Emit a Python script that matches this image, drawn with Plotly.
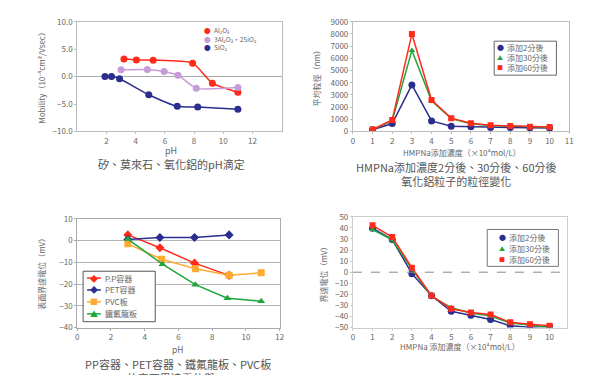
import plotly.graph_objects as go

W, H = 589, 375
FONT = "Noto Sans CJK TC, Noto Sans, sans-serif"
TXT = "#666666"

RED = "#ff2a1a"
NAVY = "#2b2d8f"
VIOLET = "#c79ad9"
ORANGE = "#ffaa33"
GREEN = "#1ea53c"

# ---------- Chart 1: mobility vs pH ----------
al2o3_ph = [3.2, 4.05, 5.2, 7.9, 9.25, 11.0]
al2o3_mob = [3.2, 3.05, 3.0, 2.45, -1.2, -2.85]
mul_ph = [3.0, 4.8, 5.95, 6.9, 8.15, 11.0]
mul_mob = [1.25, 1.3, 0.95, 0.25, -2.1, -2.0]
sio2_ph = [1.9, 2.35, 2.9, 4.9, 6.85, 8.25, 11.0]
sio2_mob = [0.0, 0.0, -0.4, -3.3, -5.4, -5.55, -5.95]
c1_names = ["Al₂O₃", "3Al₂O₃・2SiO₂", "SiO₂"]

# ---------- Chart 2: particle size vs HMPNa ----------
conc = [1, 2, 3, 4, 5, 6, 7, 8, 9, 10]
size_2 = [140, 650, 3820, 860, 430, 380, 330, 320, 310, 290]
size_30 = [150, 880, 6650, 2520, 1050, 640, 480, 430, 370, 340]
size_60 = [160, 950, 8000, 2580, 1090, 680, 500, 450, 380, 370]
c2_names = ["添加2分後", "添加30分後", "添加60分後"]

# ---------- Chart 3: zeta potential of containers ----------
pp_ph = [3.0, 4.9, 6.95, 9.0]
pp_mv = [2.6, -3.3, -10.4, -16.0]
pet_ph = [3.0, 4.9, 6.95, 9.0]
pet_mv = [0.5, 1.4, 1.4, 2.6]
pvc_ph = [3.0, 5.0, 7.0, 9.0, 10.9]
pvc_mv = [-1.5, -8.6, -13.0, -16.0, -14.8]
ptfe_ph = [3.0, 5.05, 7.0, 8.9, 10.9]
ptfe_mv = [0.7, -10.9, -20.3, -26.5, -27.9]
c3_names = ["P.P容器", "PET容器", "PVC板", "鐵氟龍板"]

# ---------- Chart 4: zeta potential vs HMPNa ----------
zeta_2 = [39.7, 29.5, -1.3, -21.3, -35.3, -38.9, -42.7, -48.5, -49.7, -49.0]
zeta_30 = [38.6, 29.2, 2.8, -21.9, -32.1, -36.8, -39.7, -45.9, -47.7, -50.0]
zeta_60 = [42.4, 31.8, 4.0, -21.3, -33.0, -36.5, -38.3, -45.3, -47.0, -48.5]
c4_names = ["添加2分後", "添加30分後", "添加60分後"]
ticks4 = [0, 1, 2, 3, 4, 5, 6, 7, 8, 9, 10]


def px(x):
    return x / W


def py(y):
    return 1 - y / H


fig = go.Figure()

# chart 1
for xs, ys, col in [(al2o3_ph, al2o3_mob, RED), (mul_ph, mul_mob, VIOLET), (sio2_ph, sio2_mob, NAVY)]:
    fig.add_trace(go.Scatter(x=xs, y=ys, mode="lines+markers", line=dict(color=col, width=1.5, shape="spline", smoothing=0.6),
                             marker=dict(color=col, size=7), xaxis="x", yaxis="y", showlegend=False))
# chart 2
for ys, col, sym, sz in [(size_2, NAVY, "circle", 7), (size_30, GREEN, "triangle-up", 6), (size_60, RED, "square", 6)]:
    fig.add_trace(go.Scatter(x=conc, y=ys, mode="lines+markers", line=dict(color=col, width=1.5),
                             marker=dict(color=col, size=sz, symbol=sym), xaxis="x2", yaxis="y2", showlegend=False))
# chart 3
for xs, ys, col, sym in [(pp_ph, pp_mv, RED, "diamond"), (pet_ph, pet_mv, NAVY, "diamond"),
                          (pvc_ph, pvc_mv, ORANGE, "square"), (ptfe_ph, ptfe_mv, GREEN, "triangle-up")]:
    fig.add_trace(go.Scatter(x=xs, y=ys, mode="lines+markers", line=dict(color=col, width=1.5),
                             marker=dict(color=col, size=7, symbol=sym), xaxis="x3", yaxis="y3", showlegend=False))
# chart 4
for ys, col, sym, sz in [(zeta_2, NAVY, "circle", 7), (zeta_30, GREEN, "triangle-up", 6), (zeta_60, RED, "square", 6)]:
    fig.add_trace(go.Scatter(x=conc, y=ys, mode="lines+markers", line=dict(color=col, width=1.5),
                             marker=dict(color=col, size=sz, symbol=sym), xaxis="x4", yaxis="y4", showlegend=False))

tickfont = dict(family=FONT, size=8, color=TXT)
ax_common = dict(showline=True, mirror=True, linewidth=1, ticks="outside", ticklen=2,
                 tickfont=tickfont, showgrid=False, zeroline=False, fixedrange=True)

fig.update_layout(
    width=W, height=H, margin=dict(l=0, r=0, t=0, b=0),
    paper_bgcolor="white", plot_bgcolor="white",
    font=dict(family=FONT, color=TXT),
    xaxis=dict(domain=[px(68), px(275)], range=[0, 14], tickvals=[2, 4, 6, 8, 10, 12],
               linecolor="#bbbbbb", tickcolor="#bbbbbb", anchor="y", **ax_common),
    yaxis=dict(domain=[py(121), py(8)], range=[-10, 10], dtick=5, tickformat=".1f",
               linecolor="#bbbbbb", tickcolor="#bbbbbb", anchor="x", **ax_common),
    xaxis2=dict(domain=[px(347), px(566)], range=[0, 11], dtick=1,
                linecolor="#bbbbbb", tickcolor="#bbbbbb", anchor="y2", **ax_common),
    yaxis2=dict(domain=[py(121), py(8)], range=[0, 9000], dtick=1000,
                linecolor="#bbbbbb", tickcolor="#bbbbbb", anchor="x2", **ax_common),
    xaxis3=dict(domain=[px(68), px(273)], range=[0, 12], dtick=2,
                linecolor="#aaaaaa", tickcolor="#aaaaaa", anchor="y3", **ax_common),
    yaxis3=dict(domain=[py(323), py(211)], range=[-40, 10], dtick=10,
                linecolor="#aaaaaa", tickcolor="#aaaaaa", anchor="x3", **ax_common),
    xaxis4=dict(domain=[px(347), px(564)], range=[0, 10.9], tickvals=ticks4,
                linecolor="#cccccc", tickcolor="#cccccc", anchor="y4", **ax_common),
    yaxis4=dict(domain=[py(323), py(209)], range=[-50, 50], dtick=10,
                linecolor="#cccccc", tickcolor="#cccccc", anchor="x4", **ax_common),
)
fig.update_yaxes(selector=dict(anchor="x"), zeroline=True, zerolinecolor="#aaaaaa", zerolinewidth=1)
fig.update_yaxes(selector=dict(anchor="x3"), showgrid=True, gridcolor="#b5b5b5", gridwidth=1)

shapes = []
# dashed zero line in chart 4
shapes.append(dict(type="line", xref="x4 domain", yref="y4", x0=0, x1=1, y0=0, y1=0,
                   line=dict(color="#888888", width=1, dash="dash")))

annos = []


def text(x, y, s, size=8, color=TXT, xanchor="center", angle=0, align="center"):
    annos.append(dict(x=px(x), y=py(y), xref="paper", yref="paper", text=s, showarrow=False,
                      font=dict(family=FONT, size=size, color=color), xanchor=xanchor, yanchor="middle",
                      textangle=angle, borderpad=0, align=align))


# axis titles
text(32, 64, "Mobility（10⁻⁴cm²/Vsec）", size=8, angle=-90)
text(163, 141, "pH", size=9)
text(310, 64, "平均粒徑（nm）", size=8, angle=-90)
text(457, 143, "HMPNa添加濃度（×10⁴mol/L）", size=8)
text(32, 266, "表面界達電位（mV）", size=8, angle=-90)
text(170, 345, "pH", size=8.5)
text(317, 266, "界達電位（mV）", size=8, angle=-90)
text(455, 343, "HMPNa 添加濃度（×10⁴mol/L）", size=8)

# captions
text(163, 155, "矽、莫來石、氧化鋁的pH滴定", size=11, color="#555555")
text(452, 165, "HMPNa添加濃度2分後、30分後、60分後<br>氧化鋁粒子的粒徑變化", size=11, color="#555555")
text(170, 368, "PP容器、PET容器、鐵氟龍板、PVC板<br>的表面界達電位與pH", size=11, color="#555555")

# legend chart 1 (markers only, no box) -- one block so the lines stack tightly
c1_cols = [RED, VIOLET, NAVY]
sym_block = "<br>".join(f"<span style='color:{c}'>●</span>" for c in c1_cols)
name_block = "<br>".join(c1_names)
text(200, 25.7, sym_block, size=6.6, xanchor="center")
text(205.5, 25.7, name_block, size=6.6, xanchor="left", align="left")

# legend chart 2
shapes.append(dict(type="rect", xref="paper", yref="paper", x0=px(490), x1=px(553), y0=py(63), y1=py(28),
                   line=dict(color="#666666", width=1), fillcolor="white"))
for i, (nm, col, sym) in enumerate(zip(c2_names, [NAVY, GREEN, RED], ["●", "▲", "■"])):
    yy = 34.5 + i * 10.5
    text(496, yy, sym, size=6 if sym != "●" else 7, color=col)
    text(502, yy, nm, size=8, xanchor="left")

# legend chart 3
shapes.append(dict(type="rect", xref="paper", yref="paper", x0=px(74), x1=px(147), y0=py(317), y1=py(265),
                   line=dict(color="#555555", width=1), fillcolor="white"))
for i, (nm, col, sym) in enumerate(zip(c3_names, [RED, NAVY, ORANGE, GREEN], ["◆", "◆", "■", "▲"])):
    yy = 272 + i * 12.3
    shapes.append(dict(type="line", xref="paper", yref="paper", x0=px(78), x1=px(92), y0=py(yy), y1=py(yy),
                       line=dict(color=col, width=1.5)))
    text(85, yy, sym, size=8, color=col)
    text(95, yy, nm, size=8, xanchor="left")

# legend chart 4
shapes.append(dict(type="rect", xref="paper", yref="paper", x0=px(483), x1=px(555), y0=py(260), y1=py(222),
                   line=dict(color="#777777", width=1), fillcolor="white"))
for i, (nm, col, sym) in enumerate(zip(c4_names, [NAVY, GREEN, RED], ["●", "▲", "■"])):
    yy = 230 + i * 11.5
    text(498, yy, sym, size=6 if sym != "●" else 7, color=col)
    text(504, yy, nm, size=8, xanchor="left")

fig.update_layout(shapes=shapes, annotations=annos)
fig.write_html("out.html")
